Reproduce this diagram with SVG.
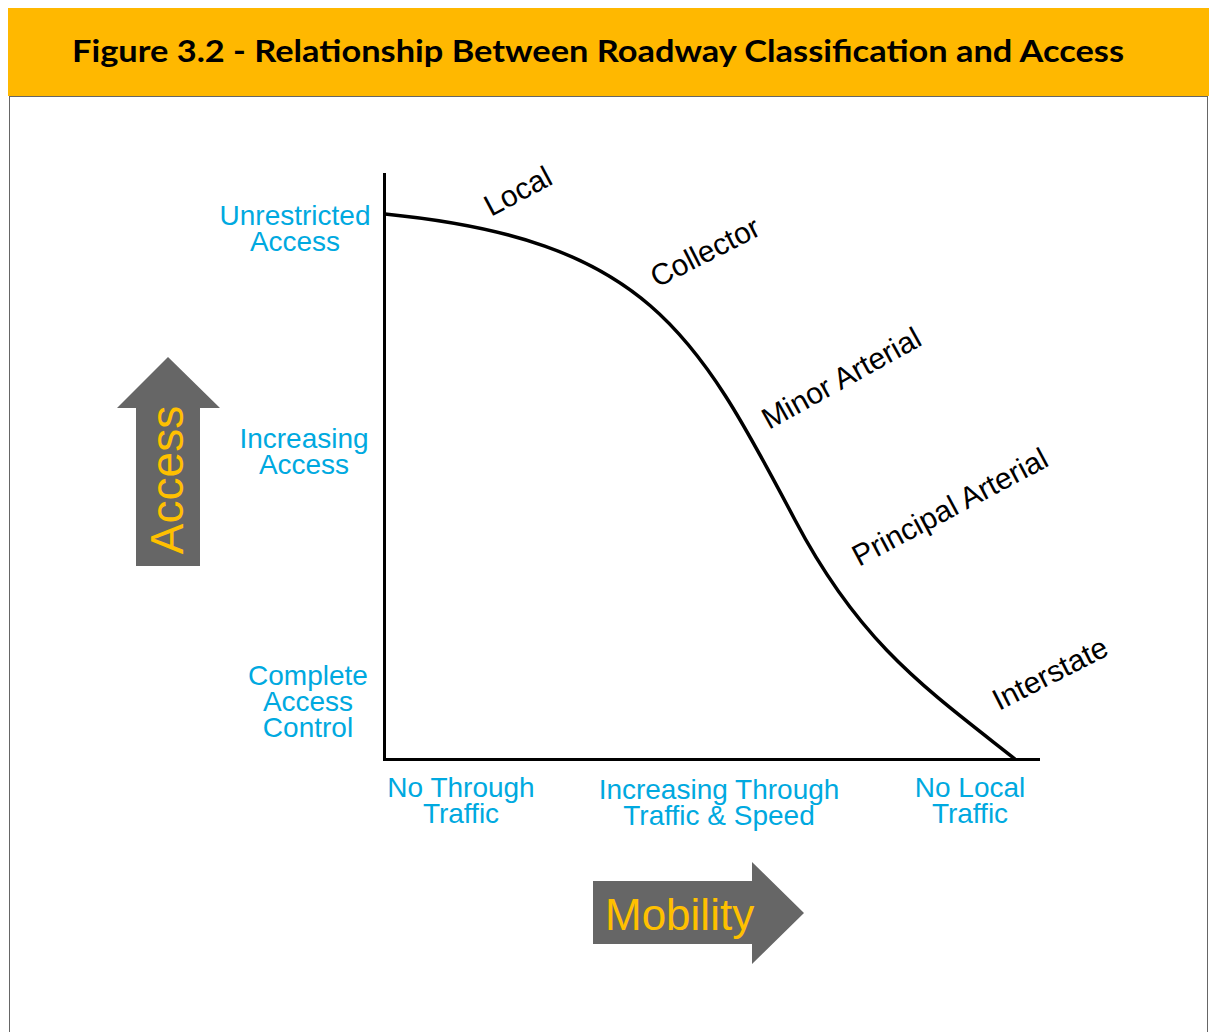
<svg xmlns="http://www.w3.org/2000/svg" width="1212" height="1032" viewBox="0 0 1212 1032">
<style>
.lbl{font-family:"Liberation Sans",Arial,sans-serif;font-size:28px;fill:#00A9E0;text-anchor:middle}
.cls{font-family:"Liberation Sans",Arial,sans-serif;font-size:30px;fill:#000}
.big{font-family:"Liberation Sans",Arial,sans-serif;fill:#FFC000}
.arrow{fill:#666666}
.axis{stroke:#000;stroke-width:3;fill:none}
</style>
<rect x="0" y="0" width="1212" height="1032" fill="#fff"/>
<rect x="9.5" y="96.5" width="1198" height="960" fill="#fff" stroke="#666" stroke-width="1"/>
<g id="header">
<rect x="8" y="8" width="1201" height="88" fill="#FFB800"/>
<text x="72" y="62" font-family="Lato,'Open Sans',sans-serif" font-weight="bold" font-size="31" fill="#000" textLength="1052" lengthAdjust="spacingAndGlyphs">Figure 3.2 - Relationship Between Roadway Classification and Access</text>
</g>
<g id="access-arrow">
<polygon class="arrow" points="168,357 220,408 200,408 200,566 136,566 136,408 117,408"/>
<text class="big" font-size="46" transform="translate(183,480) rotate(-90)" text-anchor="middle">Access</text>
</g>
<g id="mobility-arrow">
<polygon class="arrow" points="593,881 752,881 752,862 804,913 752,964 752,944 593,944"/>
<text class="big" font-size="44" x="605" y="930">Mobility</text>
</g>
<g id="connectors">
<polyline class="axis" points="384.5,173 384.5,759.5 1040,759.5"/>
<path d="M385,214 C645,240 695,330 795,520 C860,643.5 925,688 1015,759" stroke="#000" stroke-width="3.5" fill="none"/>
</g>
<g id="y-labels">
<text class="lbl" x="295" y="225">Unrestricted</text>
<text class="lbl" x="295" y="251">Access</text>
<text class="lbl" x="304" y="448">Increasing</text>
<text class="lbl" x="304" y="474">Access</text>
<text class="lbl" x="308" y="685">Complete</text>
<text class="lbl" x="308" y="711">Access</text>
<text class="lbl" x="308" y="737">Control</text>
</g>
<g id="x-labels">
<text class="lbl" x="461" y="797">No Through</text>
<text class="lbl" x="461" y="823">Traffic</text>
<text class="lbl" x="719" y="799">Increasing Through</text>
<text class="lbl" x="719" y="825">Traffic &amp; Speed</text>
<text class="lbl" x="970" y="797">No Local</text>
<text class="lbl" x="970" y="823">Traffic</text>
</g>
<g id="classes">
<text class="cls" transform="translate(491,217) rotate(-28)">Local</text>
<text class="cls" transform="translate(657,288) rotate(-27)">Collector</text>
<text class="cls" transform="translate(769,430) rotate(-29)">Minor Arterial</text>
<text class="cls" transform="translate(859,567) rotate(-28)">Principal Arterial</text>
<text class="cls" transform="translate(999,711) rotate(-27)">Interstate</text>
</g>
</svg>
